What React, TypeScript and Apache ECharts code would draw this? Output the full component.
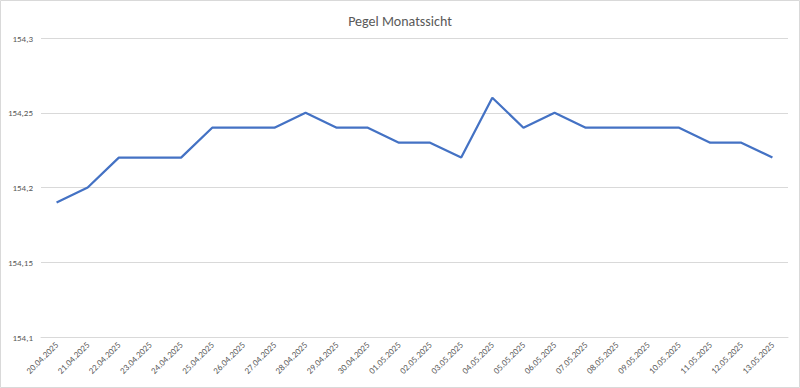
import React, { useEffect, useRef } from "react";
import * as echarts from "echarts";

const categories = [
  "20.04.2025", "21.04.2025", "22.04.2025", "23.04.2025", "24.04.2025", "25.04.2025",
  "26.04.2025", "27.04.2025", "28.04.2025", "29.04.2025", "30.04.2025", "01.05.2025",
  "02.05.2025", "03.05.2025", "04.05.2025", "05.05.2025", "06.05.2025", "07.05.2025",
  "08.05.2025", "09.05.2025", "10.05.2025", "11.05.2025", "12.05.2025", "13.05.2025",
];
const pegel = [
  154.19, 154.2, 154.22, 154.22, 154.22, 154.24,
  154.24, 154.24, 154.25, 154.24, 154.24, 154.23,
  154.23, 154.22, 154.26, 154.24, 154.25, 154.24,
  154.24, 154.24, 154.24, 154.23, 154.23, 154.22,
];
const yMin = 154.1;
const yMax = 154.3;
const yStep = 0.05;
const title = "Pegel Monatssicht";

export default function App() {
  const ref = useRef<HTMLDivElement>(null);
  useEffect(() => {
    if (!ref.current) return;
    const chart = echarts.init(ref.current, undefined, { renderer: "svg" });
    const font = "Calibri, Carlito, 'Liberation Sans', 'Open Sans', sans-serif";
    chart.setOption({
      animation: false,
      backgroundColor: "#ffffff",
      title: {
        text: title,
        left: "center",
        top: 9,
        textStyle: { fontFamily: font, fontSize: 14, fontWeight: "normal", color: "#595959" },
      },
      graphic: [
        {
          type: "rect",
          shape: { x: 0.5, y: 0.5, width: 799, height: 387 },
          style: { fill: "none", stroke: "#d9d9d9", lineWidth: 1 },
          silent: true,
        },
      ],
      grid: { left: 41, right: 12, top: 38, bottom: 51, containLabel: false },
      xAxis: {
        type: "category",
        data: categories,
        boundaryGap: true,
        axisLine: { show: true, lineStyle: { color: "#d9d9d9" } },
        axisTick: { show: false },
        axisLabel: {
          rotate: 45,
          interval: 0,
          fontFamily: font,
          fontSize: 9,
          color: "#595959",
          margin: 6,
        },
      },
      yAxis: {
        type: "value",
        min: yMin,
        max: yMax,
        interval: yStep,
        axisLine: { show: false },
        axisTick: { show: false },
        splitLine: { lineStyle: { color: "#d9d9d9" } },
        axisLabel: {
          fontFamily: font,
          fontSize: 9,
          color: "#595959",
          margin: 8,
          formatter: (v: number) => {
            const s = String(Math.round(v * 1000) / 1000);
            return s.replace(".", ",");
          },
        },
      },
      series: [
        {
          type: "line",
          data: pegel,
          symbol: "none",
          lineStyle: { color: "#4472c4", width: 2.25 },
          itemStyle: { color: "#4472c4" },
        },
      ],
    });
    return () => chart.dispose();
  }, []);
  return (
    <div
      ref={ref}
      style={{ position: "fixed", left: 0, top: 0, width: 800, height: 388 }}
    />
  );
}
